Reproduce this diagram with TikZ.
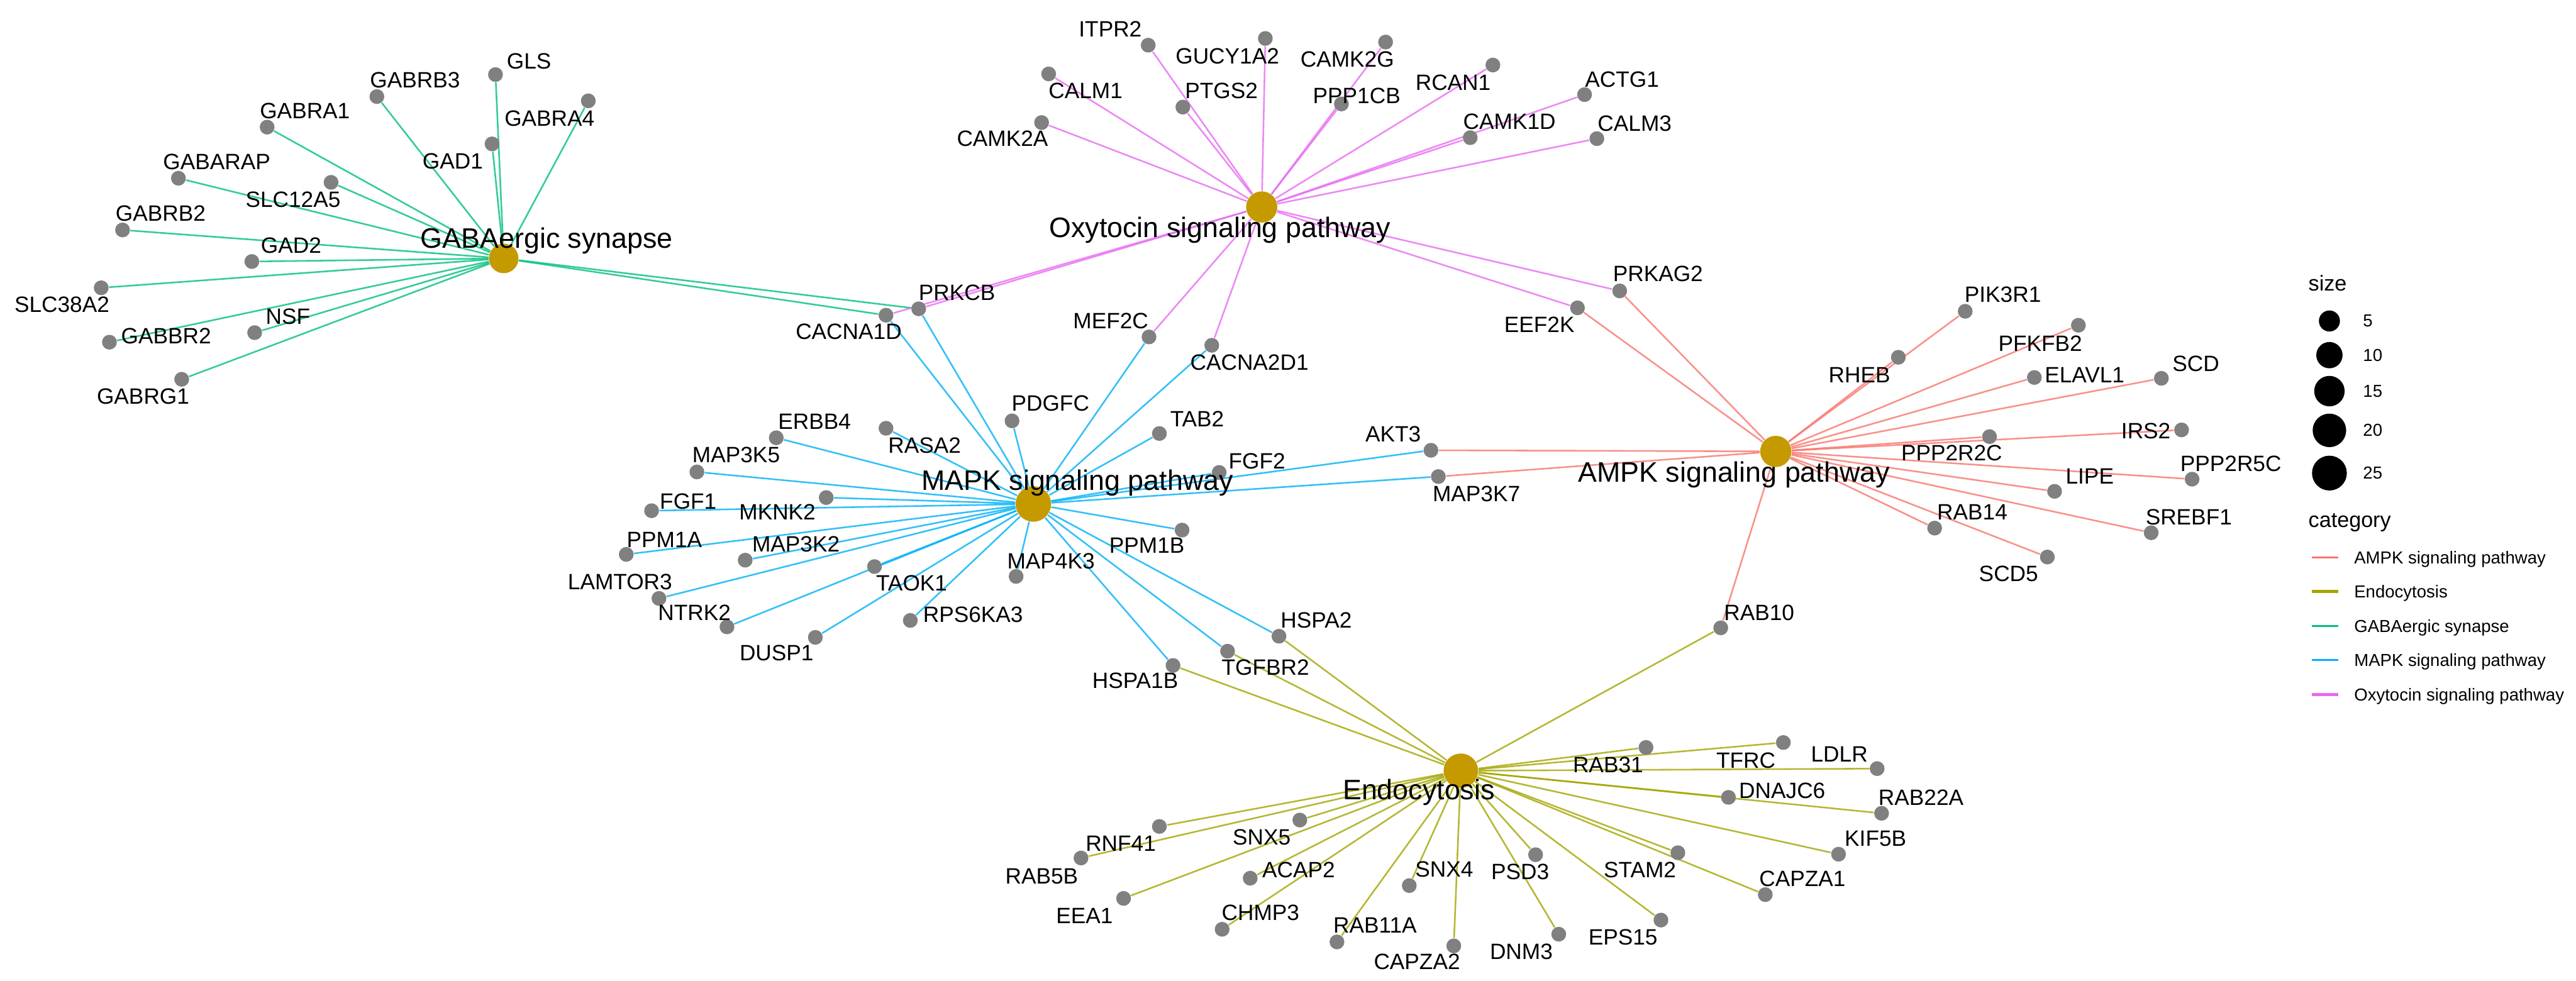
\documentclass[tikz,border=0pt]{standalone}
\usepackage{fontspec}
\setmainfont{Liberation Sans}
\usepackage{xcolor}
\definecolor{AmpkRed}{HTML}{F8766D}
\definecolor{EndoOlive}{HTML}{A3A500}
\definecolor{GabaGreen}{HTML}{00BF7D}
\definecolor{MapkBlue}{HTML}{00B0F6}
\definecolor{OxyPink}{HTML}{E76BF3}
\definecolor{HubGold}{HTML}{C49A00}
\definecolor{GeneGrey}{HTML}{808080}
\pgfdeclarelayer{edges}
\pgfsetlayers{edges,main}
\newcommand{\genefont}{\fontsize{9.6}{11}\selectfont}
\newcommand{\hubfont}{\fontsize{12.2}{14}\selectfont}
\newcommand{\keyfont}{\fontsize{7.5}{9}\selectfont}
\newcommand{\keytitlefont}{\fontsize{9.3}{11}\selectfont}

\begin{document}
\begin{tikzpicture}[
    x=0.25mm, y=-0.25mm,
    gene/.style={circle, fill=GeneGrey, minimum size=2.25mm, inner sep=0pt},
    hub/.style={circle, fill=HubGold, inner sep=0pt},
    genetxt/.style={font=\genefont, inner sep=0pt},
    hubtxt/.style={font=\hubfont, inner sep=0pt},
    keydot/.style={circle, fill=black, inner sep=0pt},
    keybar/.style={rectangle, inner sep=0pt, minimum width=4mm, minimum height=0.28mm},
    keytxt/.style={font=\keyfont, inner sep=0pt, anchor=base west},
    keynum/.style={font=\keyfont, inner sep=0pt, anchor=west},
    keytitle/.style={font=\keytitlefont, inner sep=0pt, anchor=base west},
    wire/.style={line width=0.7pt, draw opacity=0.8},
    ampkline/.style={wire, draw=AmpkRed},
    endoline/.style={wire, draw=EndoOlive},
    gabaline/.style={wire, draw=GabaGreen},
    mapkline/.style={wire, draw=MapkBlue},
    oxyline/.style={wire, draw=OxyPink}
  ]
  \useasboundingbox (0,0) rectangle (1568,597);

  \node[hub, minimum size=4.5mm] (gaba) at (306.6,157.3) {};
  \node[hub, minimum size=4.75mm] (oxy) at (768,126) {};
  \node[hub, minimum size=5.4mm] (mapk) at (629,306.8) {};
  \node[hub, minimum size=4.75mm] (ampk) at (1080.9,274.8) {};
  \node[hub, minimum size=5.25mm] (endo) at (889.2,469.2) {};

  \node[gene] (gls) at (301.6,45.4) {};
  \node[gene] (gabrb3) at (229.4,58.8) {};
  \node[gene] (gabra4) at (358.1,61.4) {};
  \node[gene] (gabra1) at (162.6,77.4) {};
  \node[gene] (gad1) at (299.5,87.6) {};
  \node[gene] (gabarap) at (108.6,108.5) {};
  \node[gene] (slc12a5) at (201.5,111) {};
  \node[gene] (gabrb2) at (74.6,140) {};
  \node[gene] (gad2) at (153.3,159.2) {};
  \node[gene] (slc38a2) at (61.6,175.2) {};
  \node[gene] (nsf) at (155,202.5) {};
  \node[gene] (gabbr2) at (66.6,208.3) {};
  \node[gene] (gabrg1) at (110.6,230.9) {};
  \node[gene] (prkcb) at (559.2,188) {};
  \node[gene] (cacna1d) at (539.3,191.9) {};

  \node[gene] (itpr2) at (698.9,27.5) {};
  \node[gene] (gucy1a2) at (770.2,23.4) {};
  \node[gene] (calm1) at (638.3,45) {};
  \node[gene] (ptgs2) at (720,65.2) {};
  \node[gene] (camk2a) at (634,74.6) {};
  \node[gene] (camk2g) at (843.4,25.6) {};
  \node[gene] (ppp1cb) at (816.5,63.3) {};
  \node[gene] (rcan1) at (908.7,39.6) {};
  \node[gene] (actg1) at (964.5,57.6) {};
  \node[gene] (camk1d) at (894.9,83.8) {};
  \node[gene] (calm3) at (972,84.4) {};
  \node[gene] (prkag2) at (985.9,177.1) {};
  \node[gene] (eef2k) at (960.2,187.4) {};
  \node[gene] (mef2c) at (699.4,205.1) {};
  \node[gene] (cacna2d1) at (737.6,210.2) {};

  \node[gene] (pdgfc) at (616,256.2) {};
  \node[gene] (erbb4) at (472.5,266.5) {};
  \node[gene] (rasa2) at (539.3,260.7) {};
  \node[gene] (tab2) at (705.7,263.9) {};
  \node[gene] (map3k5) at (424.2,287.3) {};
  \node[gene] (fgf1) at (396.6,310.9) {};
  \node[gene] (mknk2) at (502.9,302.9) {};
  \node[gene] (ppm1b) at (719.5,322.7) {};
  \node[gene] (map3k2) at (453.6,341) {};
  \node[gene] (taok1) at (532.3,344.9) {};
  \node[gene] (map4k3) at (618.5,350.9) {};
  \node[gene] (ppm1a) at (381.2,337.5) {};
  \node[gene] (lamtor3) at (401.1,364.3) {};
  \node[gene] (ntrk2) at (442.5,381.6) {};
  \node[gene] (dusp1) at (496.3,388) {};
  \node[gene] (rps6ka3) at (554.1,377.7) {};
  \node[gene] (hspa1b) at (714,405.1) {};
  \node[gene] (tgfbr2) at (747.2,396.4) {};
  \node[gene] (hspa2) at (778.5,387.3) {};
  \node[gene] (fgf2) at (742.1,287.6) {};
  \node[gene] (akt3) at (871,274.1) {};
  \node[gene] (map3k7) at (875.5,290.1) {};

  \node[gene] (pik3r1) at (1196.2,189.5) {};
  \node[gene] (rheb) at (1155.5,217.5) {};
  \node[gene] (pfkfb2) at (1265.1,198) {};
  \node[gene] (elavl1) at (1238.3,229.8) {};
  \node[gene] (scd) at (1315.6,230.3) {};
  \node[gene] (irs2) at (1327.9,261.7) {};
  \node[gene] (ppp2r2c) at (1211,265.8) {};
  \node[gene] (ppp2r5c) at (1334.3,291.7) {};
  \node[gene] (lipe) at (1250.6,299.1) {};
  \node[gene] (rab14) at (1177.6,321.5) {};
  \node[gene] (srebf1) at (1309.4,324.3) {};
  \node[gene] (scd5) at (1246.2,339.1) {};
  \node[gene] (rab10) at (1047.4,382.2) {};

  \node[gene] (rab31) at (1001.9,455) {};
  \node[gene] (tfrc) at (1085.5,452) {};
  \node[gene] (ldlr) at (1142.6,467.9) {};
  \node[gene] (dnajc6) at (1052.1,485.4) {};
  \node[gene] (rab22a) at (1145.3,495.1) {};
  \node[gene] (kif5b) at (1119.1,520) {};
  \node[gene] (stam2) at (1021.3,519.1) {};
  \node[gene] (capza1) at (1074.5,544.6) {};
  \node[gene] (psd3) at (934.7,520.3) {};
  \node[gene] (eps15) at (1011,560.1) {};
  \node[gene] (dnm3) at (948.8,568.7) {};
  \node[gene] (capza2) at (884.9,575.8) {};
  \node[gene] (rab11a) at (813.8,573.4) {};
  \node[gene] (snx4) at (857.8,539.1) {};
  \node[gene] (chmp3) at (743.9,565.7) {};
  \node[gene] (acap2) at (761,534.6) {};
  \node[gene] (eea1) at (683.9,546.9) {};
  \node[gene] (snx5) at (791.2,499.2) {};
  \node[gene] (rnf41) at (705.7,503.1) {};
  \node[gene] (rab5b) at (658,522.3) {};

  \begin{pgfonlayer}{edges}
    \draw[gabaline] (gaba) -- (gls);
    \draw[gabaline] (gaba) -- (gabrb3);
    \draw[gabaline] (gaba) -- (gabra4);
    \draw[gabaline] (gaba) -- (gabra1);
    \draw[gabaline] (gaba) -- (gad1);
    \draw[gabaline] (gaba) -- (gabarap);
    \draw[gabaline] (gaba) -- (slc12a5);
    \draw[gabaline] (gaba) -- (gabrb2);
    \draw[gabaline] (gaba) -- (gad2);
    \draw[gabaline] (gaba) -- (slc38a2);
    \draw[gabaline] (gaba) -- (nsf);
    \draw[gabaline] (gaba) -- (gabbr2);
    \draw[gabaline] (gaba) -- (gabrg1);
    \draw[gabaline] (gaba) -- (prkcb);
    \draw[gabaline] (gaba) -- (cacna1d);

    \draw[oxyline] (oxy) -- (itpr2);
    \draw[oxyline] (oxy) -- (gucy1a2);
    \draw[oxyline] (oxy) -- (calm1);
    \draw[oxyline] (oxy) -- (ptgs2);
    \draw[oxyline] (oxy) -- (camk2a);
    \draw[oxyline] (oxy) -- (camk2g);
    \draw[oxyline] (oxy) -- (ppp1cb);
    \draw[oxyline] (oxy) -- (rcan1);
    \draw[oxyline] (oxy) -- (actg1);
    \draw[oxyline] (oxy) -- (camk1d);
    \draw[oxyline] (oxy) -- (calm3);
    \draw[oxyline] (oxy) -- (prkag2);
    \draw[oxyline] (oxy) -- (eef2k);
    \draw[oxyline] (oxy) -- (mef2c);
    \draw[oxyline] (oxy) -- (cacna2d1);
    \draw[oxyline] (oxy) -- (prkcb);
    \draw[oxyline] (oxy) -- (cacna1d);

    \draw[mapkline] (mapk) -- (prkcb);
    \draw[mapkline] (mapk) -- (cacna1d);
    \draw[mapkline] (mapk) -- (mef2c);
    \draw[mapkline] (mapk) -- (cacna2d1);
    \draw[mapkline] (mapk) -- (pdgfc);
    \draw[mapkline] (mapk) -- (erbb4);
    \draw[mapkline] (mapk) -- (rasa2);
    \draw[mapkline] (mapk) -- (tab2);
    \draw[mapkline] (mapk) -- (map3k5);
    \draw[mapkline] (mapk) -- (fgf1);
    \draw[mapkline] (mapk) -- (mknk2);
    \draw[mapkline] (mapk) -- (ppm1b);
    \draw[mapkline] (mapk) -- (map3k2);
    \draw[mapkline] (mapk) -- (taok1);
    \draw[mapkline] (mapk) -- (map4k3);
    \draw[mapkline] (mapk) -- (ppm1a);
    \draw[mapkline] (mapk) -- (lamtor3);
    \draw[mapkline] (mapk) -- (ntrk2);
    \draw[mapkline] (mapk) -- (dusp1);
    \draw[mapkline] (mapk) -- (rps6ka3);
    \draw[mapkline] (mapk) -- (hspa1b);
    \draw[mapkline] (mapk) -- (tgfbr2);
    \draw[mapkline] (mapk) -- (hspa2);
    \draw[mapkline] (mapk) -- (fgf2);
    \draw[mapkline] (mapk) -- (akt3);
    \draw[mapkline] (mapk) -- (map3k7);

    \draw[ampkline] (ampk) -- (prkag2);
    \draw[ampkline] (ampk) -- (eef2k);
    \draw[ampkline] (ampk) -- (pik3r1);
    \draw[ampkline] (ampk) -- (rheb);
    \draw[ampkline] (ampk) -- (pfkfb2);
    \draw[ampkline] (ampk) -- (elavl1);
    \draw[ampkline] (ampk) -- (scd);
    \draw[ampkline] (ampk) -- (irs2);
    \draw[ampkline] (ampk) -- (ppp2r2c);
    \draw[ampkline] (ampk) -- (ppp2r5c);
    \draw[ampkline] (ampk) -- (lipe);
    \draw[ampkline] (ampk) -- (rab14);
    \draw[ampkline] (ampk) -- (srebf1);
    \draw[ampkline] (ampk) -- (scd5);
    \draw[ampkline] (ampk) -- (akt3);
    \draw[ampkline] (ampk) -- (map3k7);
    \draw[ampkline] (ampk) -- (rab10);

    \draw[endoline] (endo) -- (hspa1b);
    \draw[endoline] (endo) -- (tgfbr2);
    \draw[endoline] (endo) -- (hspa2);
    \draw[endoline] (endo) -- (rab10);
    \draw[endoline] (endo) -- (rab31);
    \draw[endoline] (endo) -- (tfrc);
    \draw[endoline] (endo) -- (ldlr);
    \draw[endoline] (endo) -- (dnajc6);
    \draw[endoline] (endo) -- (rab22a);
    \draw[endoline] (endo) -- (kif5b);
    \draw[endoline] (endo) -- (stam2);
    \draw[endoline] (endo) -- (capza1);
    \draw[endoline] (endo) -- (psd3);
    \draw[endoline] (endo) -- (eps15);
    \draw[endoline] (endo) -- (dnm3);
    \draw[endoline] (endo) -- (capza2);
    \draw[endoline] (endo) -- (rab11a);
    \draw[endoline] (endo) -- (snx4);
    \draw[endoline] (endo) -- (chmp3);
    \draw[endoline] (endo) -- (acap2);
    \draw[endoline] (endo) -- (eea1);
    \draw[endoline] (endo) -- (snx5);
    \draw[endoline] (endo) -- (rnf41);
    \draw[endoline] (endo) -- (rab5b);
  \end{pgfonlayer}

  \node[genetxt] (gls-t) at (322,37.1) {GLS};
  \node[genetxt] (gabrb3-t) at (252.6,48.6) {GABRB3};
  \node[genetxt] (gabra4-t) at (334.5,72) {GABRA4};
  \node[genetxt] (gabra1-t) at (185.6,67.5) {GABRA1};
  \node[genetxt] (gad1-t) at (275.6,98.2) {GAD1};
  \node[genetxt] (gabarap-t) at (131.9,98.5) {GABARAP};
  \node[genetxt] (slc12a5-t) at (178.4,121.5) {SLC12A5};
  \node[genetxt] (gabrb2-t) at (97.8,129.8) {GABRB2};
  \node[genetxt] (gad2-t) at (177.2,149.3) {GAD2};
  \node[genetxt] (slc38a2-t) at (37.7,185.5) {SLC38A2};
  \node[genetxt] (nsf-t) at (175.3,192.8) {NSF};
  \node[genetxt] (gabbr2-t) at (101.1,204.5) {GABBR2};
  \node[genetxt] (gabrg1-t) at (87.1,241.2) {GABRG1};
  \node[genetxt] (prkcb-t) at (582.5,178.1) {PRKCB};
  \node[genetxt] (cacna1d-t) at (516.6,202) {CACNA1D};

  \node[genetxt] (itpr2-t) at (675.8,17.6) {ITPR2};
  \node[genetxt] (gucy1a2-t) at (747.1,34.2) {GUCY1A2};
  \node[genetxt] (calm1-t) at (660.8,55.3) {CALM1};
  \node[genetxt] (ptgs2-t) at (743.5,55.3) {PTGS2};
  \node[genetxt] (camk2a-t) at (610.2,84.4) {CAMK2A};
  \node[genetxt] (camk2g-t) at (820.1,36.1) {CAMK2G};
  \node[genetxt] (ppp1cb-t) at (825.8,58.5) {PPP1CB};
  \node[genetxt] (rcan1-t) at (884.5,50.2) {RCAN1};
  \node[genetxt] (actg1-t) at (987.3,48.3) {ACTG1};
  \node[genetxt] (camk1d-t) at (918.8,74.2) {CAMK1D};
  \node[genetxt] (calm3-t) at (995,75.1) {CALM3};
  \node[genetxt] (prkag2-t) at (1009.2,166.6) {PRKAG2};
  \node[genetxt] (eef2k-t) at (937,197.6) {EEF2K};
  \node[genetxt] (mef2c-t) at (676.1,195.4) {MEF2C};
  \node[genetxt] (cacna2d1-t) at (760.5,220.8) {CACNA2D1};

  \node[genetxt] (pdgfc-t) at (639.4,245.7) {PDGFC};
  \node[genetxt] (erbb4-t) at (495.8,256.6) {ERBB4};
  \node[genetxt] (rasa2-t) at (562.8,271.3) {RASA2};
  \node[genetxt] (tab2-t) at (728.7,255.1) {TAB2};
  \node[genetxt] (map3k5-t) at (448.1,277) {MAP3K5};
  \node[genetxt] (fgf1-t) at (418.9,305.2) {FGF1};
  \node[genetxt] (mknk2-t) at (473.2,311.6) {MKNK2};
  \node[genetxt] (ppm1b-t) at (698.1,332) {PPM1B};
  \node[genetxt] (map3k2-t) at (484.5,331.4) {MAP3K2};
  \node[genetxt] (taok1-t) at (554.9,355) {TAOK1};
  \node[genetxt] (map4k3-t) at (639.7,341.6) {MAP4K3};
  \node[genetxt] (ppm1a-t) at (404.4,328.5) {PPM1A};
  \node[genetxt] (lamtor3-t) at (377.4,354.1) {LAMTOR3};
  \node[genetxt] (ntrk2-t) at (422.7,373) {NTRK2};
  \node[genetxt] (dusp1-t) at (472.7,397.6) {DUSP1};
  \node[genetxt] (rps6ka3-t) at (592.3,374.2) {RPS6KA3};
  \node[genetxt] (hspa1b-t) at (691,414.4) {HSPA1B};
  \node[genetxt] (tgfbr2-t) at (770.3,406.2) {TGFBR2};
  \node[genetxt] (hspa2-t) at (801.2,377.4) {HSPA2};
  \node[genetxt] (fgf2-t) at (765.1,280.9) {FGF2};
  \node[genetxt] (akt3-t) at (848,264.2) {AKT3};
  \node[genetxt] (map3k7-t) at (898.7,300.7) {MAP3K7};

  \node[genetxt] (pik3r1-t) at (1219.1,179.4) {PIK3R1};
  \node[genetxt] (rheb-t) at (1131.8,228.4) {RHEB};
  \node[genetxt] (pfkfb2-t) at (1241.9,209.2) {PFKFB2};
  \node[genetxt] (elavl1-t) at (1268.9,228.4) {ELAVL1};
  \node[genetxt] (scd-t) at (1336.6,221.4) {SCD};
  \node[genetxt] (irs2-t) at (1306.2,262.3) {IRS2};
  \node[genetxt] (ppp2r2c-t) at (1188,275.6) {PPP2R2C};
  \node[genetxt] (ppp2r5c-t) at (1357.9,282.1) {PPP2R5C};
  \node[genetxt] (lipe-t) at (1272,289.8) {LIPE};
  \node[genetxt] (rab14-t) at (1200.5,311.6) {RAB14};
  \node[genetxt] (srebf1-t) at (1332.3,314.8) {SREBF1};
  \node[genetxt] (scd5-t) at (1222.6,349.3) {SCD5};
  \node[genetxt] (rab10-t) at (1070.8,372.9) {RAB10};

  \node[genetxt] (rab31-t) at (978.8,465.6) {RAB31};
  \node[genetxt] (tfrc-t) at (1062.7,463) {TFRC};
  \node[genetxt] (ldlr-t) at (1119.6,459.1) {LDLR};
  \node[genetxt] (dnajc6-t) at (1084.8,481.5) {DNAJC6};
  \node[genetxt] (rab22a-t) at (1169.3,485.4) {RAB22A};
  \node[genetxt] (kif5b-t) at (1141.6,510.6) {KIF5B};
  \node[genetxt] (stam2-t) at (998.2,529.4) {STAM2};
  \node[genetxt] (capza1-t) at (1097.1,534.9) {CAPZA1};
  \node[genetxt] (psd3-t) at (925.3,530.9) {PSD3};
  \node[genetxt] (eps15-t) at (987.9,570.4) {EPS15};
  \node[genetxt] (dnm3-t) at (926,579.2) {DNM3};
  \node[genetxt] (capza2-t) at (862.5,585.3) {CAPZA2};
  \node[genetxt] (rab11a-t) at (837,563.3) {RAB11A};
  \node[genetxt] (snx4-t) at (879.1,529) {SNX4};
  \node[genetxt] (chmp3-t) at (767.3,555.5) {CHMP3};
  \node[genetxt] (acap2-t) at (790.5,529.4) {ACAP2};
  \node[genetxt] (eea1-t) at (660.1,557.5) {EEA1};
  \node[genetxt] (snx5-t) at (768,509.6) {SNX5};
  \node[genetxt] (rnf41-t) at (682.2,513.5) {RNF41};
  \node[genetxt] (rab5b-t) at (634.1,533.3) {RAB5B};

  \node[hubtxt] (gaba-t) at (332.8,146.4) {GABAergic synapse};
  \node[hubtxt] (oxy-t) at (742.6,140) {Oxytocin signaling pathway};
  \node[hubtxt] (mapk-t) at (655.8,294) {MAPK signaling pathway};
  \node[hubtxt] (ampk-t) at (1055.5,288.9) {AMPK signaling pathway};
  \node[hubtxt] (endo-t) at (863.6,482.4) {Endocytosis};

  \node[keytitle] (size-t) at (1404.9,177.1) {size};
  \node[keydot, minimum size=3.2mm] (size5) at (1417.9,195.4) {};
  \node[keydot, minimum size=4mm] (size10) at (1417.9,216.2) {};
  \node[keydot, minimum size=4.63mm] (size15) at (1417.9,238.1) {};
  \node[keydot, minimum size=5.1mm] (size20) at (1417.9,262) {};
  \node[keydot, minimum size=5.3mm] (size25) at (1417.9,288) {};
  \node[keynum] (size5-t) at (1438.1,195.4) {5};
  \node[keynum] (size10-t) at (1438.1,216.2) {10};
  \node[keynum] (size15-t) at (1438.1,238.1) {15};
  \node[keynum] (size20-t) at (1438.1,262) {20};
  \node[keynum] (size25-t) at (1438.1,288) {25};

  \node[keytitle] (cat-t) at (1404.9,321) {category};
  \node[keybar, fill=AmpkRed] (key-ampk) at (1415.3,339.2) {};
  \node[keybar, fill=EndoOlive, minimum height=0.5mm] (key-endo) at (1415.3,360.1) {};
  \node[keybar, fill=GabaGreen] (key-gaba) at (1415.3,381.2) {};
  \node[keybar, fill=MapkBlue] (key-mapk) at (1415.3,401.6) {};
  \node[keybar, fill=OxyPink, minimum height=0.5mm] (key-oxy) at (1415.3,422.8) {};
  \node[keytxt] (key-ampk-t) at (1432.7,343) {AMPK signaling pathway};
  \node[keytxt] (key-endo-t) at (1432.7,363.9) {Endocytosis};
  \node[keytxt] (key-gaba-t) at (1432.7,385) {GABAergic synapse};
  \node[keytxt] (key-mapk-t) at (1432.7,405.4) {MAPK signaling pathway};
  \node[keytxt] (key-oxy-t) at (1432.7,426.6) {Oxytocin signaling pathway};
\end{tikzpicture}
\end{document}
